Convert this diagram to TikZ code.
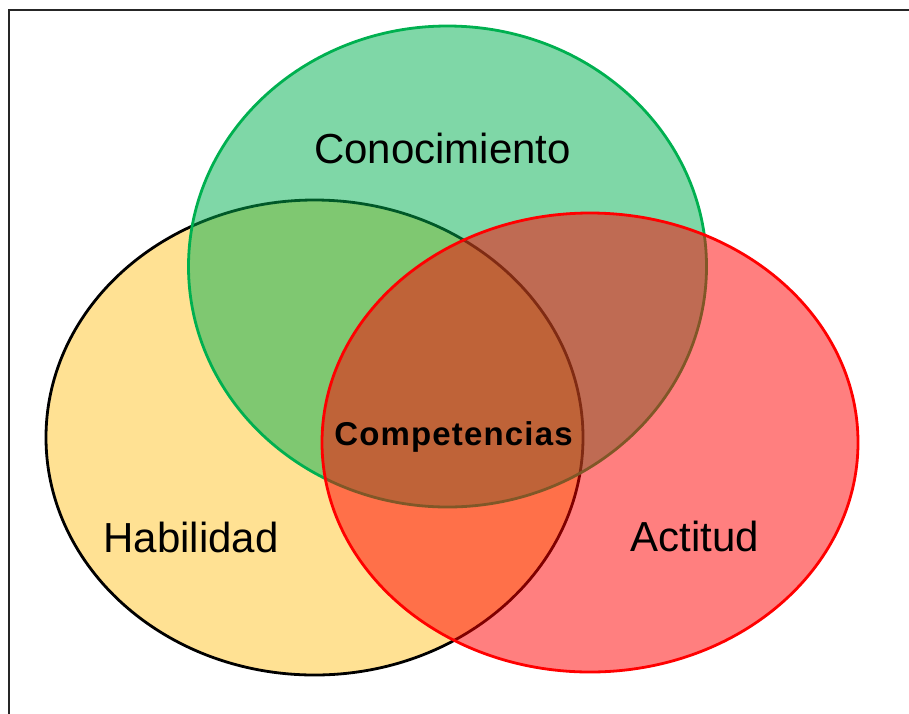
\documentclass[tikz,border=0pt]{standalone}
\usepackage{fontspec}
\setmainfont{Liberation Sans}
\newfontfamily\spacedbold[LetterSpace=3.5]{Liberation Sans}
\usetikzlibrary{shapes.geometric}
\definecolor{conogreen}{HTML}{00B050}
\definecolor{habyellow}{HTML}{FFE193}
\definecolor{actred}{HTML}{FF0000}

\begin{document}
\begin{tikzpicture}[x=1pt, y=-1pt,
  venn/.style={ellipse, draw, line width=2.8pt, inner sep=0pt},
  lbl/.style={anchor=base, font=\fontsize{42}{50}\selectfont}]
\clip (0, 0) rectangle (909, 713);
\draw[line width=2.5pt, black!85] (9, 10) rectangle (930, 730);

\node[venn, fill=habyellow, minimum width=537, minimum height=475] (hab) at (314.5, 437.5) {};
\node[venn, draw=conogreen, fill=conogreen, fill opacity=0.5, minimum width=518, minimum height=481] (cono) at (447.5, 266.5) {};
\node[venn, draw=actred, fill=actred, fill opacity=0.5, minimum width=536, minimum height=459] (act) at (590, 442.5) {};

\node[lbl] (conotext) at (442.5, 163) {Conocimiento};
\node[lbl] (habtext) at (191, 552) {Habilidad};
\node[lbl] (acttext) at (695, 551) {Actitud};
\node[lbl, font=\spacedbold\bfseries\fontsize{33}{40}\selectfont] (comptext) at (453.5, 445) {Competencias};
\end{tikzpicture}
\end{document}
